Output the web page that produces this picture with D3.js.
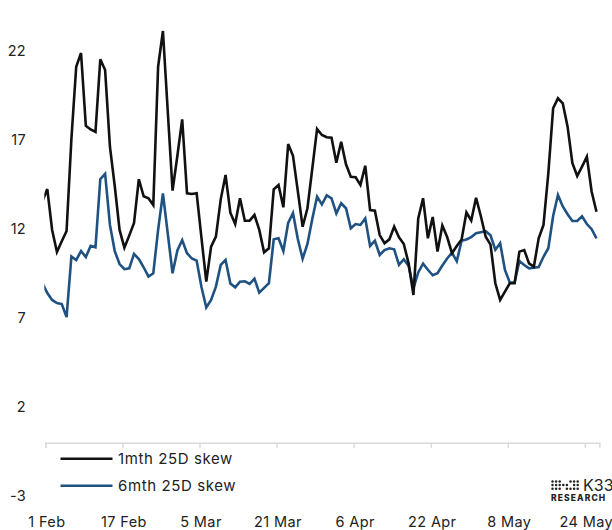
<!DOCTYPE html>
<html><head><meta charset="utf-8">
<script src="https://cdn.jsdelivr.net/npm/d3@7"></script>
<style>
html,body{margin:0;padding:0;background:#fff;}
svg{display:block;font-family:Inter,"Open Sans",sans-serif;}
</style></head>
<body>
<svg id="chart" width="612" height="530"></svg>
<script>
// ---- data ----
const seriesStart = "2023-01-31T10:00:00Z"; // daily observations
const seriesNames = ["1mth 25D skew", "6mth 25D skew"];
const skew1m = [13.55,14.22,11.92,10.68,11.28,11.86,17.03,21.10,21.87,17.77,
17.57,17.43,21.52,20.91,16.60,14.39,11.92,10.92,11.60,12.31,
14.77,13.81,13.70,13.32,21.10,23.11,18.61,14.13,16.09,18.14,
13.98,13.94,13.98,11.47,9.01,10.98,11.54,13.64,15.01,12.89,
12.25,13.70,12.44,12.44,12.76,11.92,10.66,10.89,14.20,14.45,
13.19,16.75,16.09,14.10,12.10,13.14,15.36,17.60,17.26,17.13,
17.11,15.70,16.88,15.61,14.91,14.88,14.45,15.53,13.04,13.00,
11.63,11.17,11.39,12.10,11.50,11.13,10.04,8.26,12.57,13.70,
11.45,12.65,10.70,12.17,11.52,10.61,11.02,11.38,12.90,12.45,
13.73,12.69,11.54,11.09,8.92,7.98,8.45,8.92,8.92,10.70,
10.79,10.04,9.85,11.45,12.20,15.10,18.76,19.32,19.04,17.73,
15.67,14.95,15.48,16.04,14.07,12.94];
const skew6m = [8.93,8.37,7.98,7.81,7.75,7.02,10.43,10.23,10.73,10.40,
11.02,10.94,14.77,15.07,12.20,10.73,10.00,9.71,9.76,10.57,
10.28,9.82,9.30,9.48,11.92,13.97,11.73,9.48,10.77,11.35,
10.61,10.31,10.19,8.71,7.56,7.98,8.73,9.95,10.23,8.91,
8.69,9.01,9.03,8.88,9.18,8.39,8.66,8.92,11.39,11.45,
10.73,12.31,12.87,11.41,10.30,11.13,12.53,13.79,13.35,13.86,
13.70,12.85,13.42,13.14,12.01,12.25,12.20,12.57,11.02,11.31,
10.51,10.79,10.89,10.83,9.95,10.27,9.89,8.64,9.53,10.02,
9.68,9.37,9.48,9.92,10.31,10.64,10.16,11.31,11.38,11.52,
11.73,11.79,11.85,11.62,10.81,11.17,9.67,8.96,8.96,10.17,
9.95,9.76,9.79,9.83,10.41,10.89,12.70,13.88,13.24,12.80,
12.42,12.42,12.68,12.25,11.96,11.45];
const xTickDates = ["2023-02-01","2023-02-17","2023-03-05","2023-03-21","2023-04-06","2023-04-22","2023-05-08","2023-05-24"];
const xTickLabels = ["1 Feb","17 Feb","5 Mar","21 Mar","6 Apr","22 Apr","8 May","24 May"];
const yTicks = [-3, 2, 7, 12, 17, 22];
const xDomain = ["2023-02-01","2023-05-27"];

// ---- build ----
const start = new Date(seriesStart);
const dates = skew1m.map((_, i) => d3.utcDay.offset(start, i));
const svg = d3.select("#chart");
const x = d3.scaleUtc().domain(xDomain.map(d => new Date(d + "T00:00:00Z"))).range([45.3, 599.3]);
const y = d3.scaleLinear().domain([-3, 22]).range([495.2, 50.7]);

// y labels (no axis line)
svg.append("g").selectAll("text").data(yTicks).join("text")
  .attr("x", 26).attr("y", d => y(d)).attr("text-anchor", "end")
  .attr("dominant-baseline", "central").attr("font-size", 14.5).attr("fill", "#222")
  .attr("letter-spacing", 0.3)
  .text(d => d);

// x axis at 0
const xa = svg.append("g").attr("transform", `translate(0,${y(0) + 1})`)
  .call(d3.axisBottom(x).tickValues(xTickDates.map(d => new Date(d + "T00:00:00Z")))
    .tickSize(5).tickFormat(""));
xa.select(".domain").attr("stroke", "#d9d9d9").attr("stroke-width", 1.5);
xa.selectAll(".tick line").attr("stroke", "#d9d9d9").attr("stroke-width", 1.5);

svg.append("g").selectAll("text").data(xTickDates).join("text")
  .attr("x", d => x(new Date(d + "T00:00:00Z")) + 1.5).attr("y", 521)
  .attr("text-anchor", "middle").attr("dominant-baseline", "central")
  .attr("font-size", 14.5).attr("fill", "#222").attr("letter-spacing", 0.4)
  .text((d, i) => xTickLabels[i]);

// lines
svg.append("clipPath").attr("id", "clip").append("rect")
  .attr("x", x.range()[0] - 1).attr("y", 0).attr("width", x.range()[1] - x.range()[0] + 1).attr("height", 530);
const colors = ["#111111", "#1f5282"];
const line = d3.line().x((d, i) => x(dates[i])).y(d => y(d));
[skew6m, skew1m].forEach((s, j) => {
  svg.append("path").datum(s).attr("clip-path", "url(#clip)")
    .attr("d", line).attr("fill", "none")
    .attr("stroke", j === 0 ? colors[1] : colors[0]).attr("stroke-width", 2.6)
    .attr("stroke-linejoin", "miter");
});

// legend
const lg = svg.append("g");
seriesNames.forEach((n, i) => {
  const yy = 458.7 + i * 27;
  lg.append("line").attr("x1", 60.5).attr("x2", 112.5).attr("y1", yy).attr("y2", yy)
    .attr("stroke", colors[i]).attr("stroke-width", 2.6);
  lg.append("text").attr("x", 118).attr("y", yy).attr("dominant-baseline", "central")
    .attr("font-size", 15).attr("letter-spacing", 0.6).attr("fill", "#222").text(n);
});

// logo
const logo = svg.append("g");
const dotCols = [0,1,2,3,4,5,6,7];
const dotRows = [0,1,2];
const dotPattern = ["11100111","11111011","11101111"];
dotRows.forEach(r => dotCols.forEach(c => {
  if (dotPattern[r][c] === "1")
    logo.append("circle").attr("cx", 552.5 + c * 3.6).attr("cy", 481.5 + r * 3.6).attr("r", 1.25).attr("fill", "#222");
}));
logo.append("text").attr("x", 583).attr("y", 485).attr("dominant-baseline", "central")
  .attr("font-size", 16).attr("fill", "#222").text("K33");
logo.append("text").attr("x", 551).attr("y", 497.5).attr("dominant-baseline", "central")
  .attr("font-size", 8.5).attr("font-weight", 800).attr("letter-spacing", 1.1).attr("fill", "#222").text("RESEARCH");
</script>
</body></html>
